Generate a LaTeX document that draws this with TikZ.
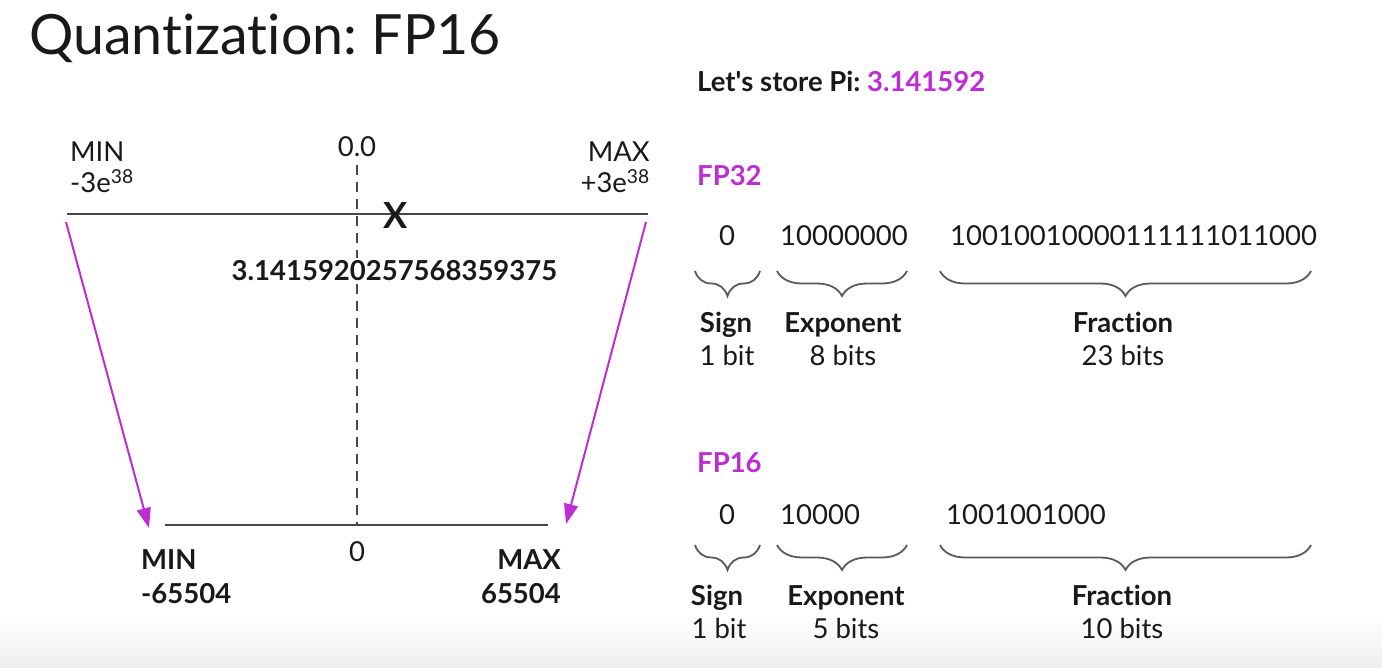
\documentclass[tikz,border=0pt]{standalone}
\usepackage{fontspec}
\setmainfont{Lato}[Ligatures=NoCommon]
\usetikzlibrary{decorations.pathreplacing,arrows.meta}
\frenchspacing
\definecolor{vio}{RGB}{190,45,212}
\definecolor{ink}{RGB}{25,25,25}
\definecolor{linegray}{RGB}{70,70,70}
\definecolor{bracegray}{RGB}{90,90,90}
\tikzset{
  txt/.style={font=\fontsize{27.5}{33}\selectfont, text=ink, inner sep=0pt},
  btxt/.style={txt, font=\fontsize{27.5}{33}\selectfont\bfseries},
  axis/.style={draw=linegray, line width=2pt},
  zeroline/.style={draw=linegray, line width=1.6pt, dash pattern=on 10pt off 7pt},
  maparrow/.style={draw=vio, line width=2pt, -{Triangle[length=20pt,width=14pt]}},
  bitbrace/.style={draw=bracegray, line width=1.8pt, decorate, decoration={brace, mirror, amplitude=25pt, aspect=0.5}},
}
\begin{document}
\begin{tikzpicture}[x=1pt,y=-1pt]
\useasboundingbox (0,0) rectangle (1382,668);
\fill[white] (0,0) rectangle (1382,668);
\shade[top color=white, bottom color=black!7] (0,615) rectangle (1382,668);

% title
\node[txt, anchor=base west, font=\fontsize{55.5}{60}\selectfont] (title) at (29,55) {Quantization: FP16};
\node[btxt, anchor=base west] (pi) at (697,92) {Let\textquotesingle s store Pi: \textcolor{vio}{3.141592}};

% ---- left: ranges ----
\coordinate (tl) at (67,214);
\coordinate (tr) at (648,214);
\coordinate (bl) at (165,525);
\coordinate (br) at (548,525);
\coordinate (dtop) at (357,165);
\coordinate (dbot) at (357,525);
\draw[zeroline] (dtop) -- (dbot);
\draw[axis] (tl) -- (tr);
\draw[axis] (bl) -- (br);

\node[txt, anchor=base] (zz) at (357,157) {0.0};
\node[txt, anchor=base] (z) at (357,561) {0};
\node[btxt, font=\fontsize{36}{38}\selectfont\bfseries] (x) at (396,215) {X};
\node[btxt, fill=white, inner sep=3pt, anchor=base] (val) at (394.5,281) {3.1415920257568359375};

\node[txt, anchor=base west] (mint) at (70,162) {MIN};
\node[txt, anchor=base west] (minv) at (70,193) {-3e\textsuperscript{38}};
\node[txt, anchor=base east] (maxt) at (650,162) {MAX};
\node[txt, anchor=base east] (maxv) at (650,193) {+3e\textsuperscript{38}};

\node[btxt, anchor=base west] (minb) at (141,569) {MIN};
\node[btxt, anchor=base west] (minbv) at (141,603) {-65504};
\node[btxt, anchor=base east] (maxb) at (561,569) {MAX};
\node[btxt, anchor=base east] (maxbv) at (561,603) {65504};

\coordinate (a1s) at (66,222);
\coordinate (a1e) at (149,528);
\coordinate (a2s) at (646,222);
\coordinate (a2e) at (566,524);
\draw[maparrow] (a1s) -- (a1e);
\draw[maparrow] (a2s) -- (a2e);

% ---- right: FP32 ----
\node[btxt, anchor=base west, text=vio] (fp32) at (697,186) {FP32};
\node[txt, anchor=base] (s32) at (727,246) {0};
\node[txt, anchor=base west] (e32) at (780,246) {10000000};
\node[txt, anchor=base west] (f32) at (950,246) {10010010000111111011000};

\coordinate (bs32a) at (695,271); \coordinate (bs32b) at (760,271);
\coordinate (be32a) at (777,271); \coordinate (be32b) at (907,271);
\coordinate (bf32a) at (940,271); \coordinate (bf32b) at (1311,271);
\draw[bitbrace] (bs32a) -- (bs32b);
\draw[bitbrace] (be32a) -- (be32b);
\draw[bitbrace] (bf32a) -- (bf32b);

\node[btxt, anchor=base] (ls32) at (726,333) {Sign};
\node[txt, anchor=base] (ns32) at (727,366) {1 bit};
\node[btxt, anchor=base] (le32) at (843,333) {Exponent};
\node[txt, anchor=base] (ne32) at (843,366) {8 bits};
\node[btxt, anchor=base] (lf32) at (1123,333) {Fraction};
\node[txt, anchor=base] (nf32) at (1123,366) {23 bits};

% ---- right: FP16 ----
\node[btxt, anchor=base west, text=vio] (fp16) at (697,472) {FP16};
\node[txt, anchor=base] (s16) at (727,524) {0};
\node[txt, anchor=base west] (e16) at (780,524) {10000};
\node[txt, anchor=base west] (f16) at (946,524) {1001001000};

\coordinate (bs16a) at (695,545); \coordinate (bs16b) at (760,545);
\coordinate (be16a) at (777,545); \coordinate (be16b) at (907,545);
\coordinate (bf16a) at (940,545); \coordinate (bf16b) at (1311,545);
\draw[bitbrace] (bs16a) -- (bs16b);
\draw[bitbrace] (be16a) -- (be16b);
\draw[bitbrace] (bf16a) -- (bf16b);

\node[btxt, anchor=base] (ls16) at (717,605) {Sign};
\node[txt, anchor=base] (ns16) at (719,638) {1 bit};
\node[btxt, anchor=base] (le16) at (846,605) {Exponent};
\node[txt, anchor=base] (ne16) at (846,638) {5 bits};
\node[btxt, anchor=base] (lf16) at (1122,605) {Fraction};
\node[txt, anchor=base] (nf16) at (1122,638) {10 bits};
\end{tikzpicture}
\end{document}
